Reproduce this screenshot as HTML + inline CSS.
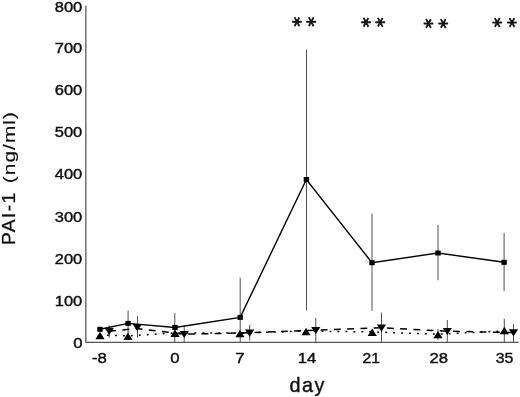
<!DOCTYPE html>
<html><head><meta charset="utf-8"><title>PAI-1</title>
<style>
html,body{margin:0;padding:0;background:#fff;}
body{width:520px;height:397px;overflow:hidden;}
svg{display:block;}
text{font-family:"Liberation Sans",sans-serif;fill:#111;stroke:#111;}
.tk{stroke-width:0.4px;}
.ttl{stroke-width:0.1px;}
.ast{font-family:"DejaVu Sans","Liberation Sans",sans-serif;stroke-width:0.8px;stroke-linejoin:round;}
</style></head><body>
<svg width="520" height="397" viewBox="0 0 520 397">
<rect width="520" height="397" fill="#fff"/>
<path d="M85.85 5.8V342.25H518.6" fill="none" stroke="#555" stroke-width="1.25" stroke-linejoin="round"/>
<line x1="128.1" x2="128.1" y1="310.8" y2="336" stroke="#505050" stroke-width="1"/>
<line x1="174.8" x2="174.8" y1="313.2" y2="343" stroke="#505050" stroke-width="1"/>
<line x1="240.2" x2="240.2" y1="277.7" y2="343" stroke="#505050" stroke-width="1"/>
<line x1="306.5" x2="306.5" y1="49.6" y2="310.3" stroke="#505050" stroke-width="1"/>
<line x1="372.0" x2="372.0" y1="213.8" y2="310.8" stroke="#505050" stroke-width="1"/>
<line x1="438" x2="438" y1="224.9" y2="280.3" stroke="#505050" stroke-width="1"/>
<line x1="504.1" x2="504.1" y1="232.9" y2="291" stroke="#505050" stroke-width="1"/>
<line x1="438" x2="438" y1="329" y2="340" stroke="#505050" stroke-width="1"/>
<line x1="504.3" x2="504.3" y1="318.8" y2="342" stroke="#505050" stroke-width="1"/>
<line x1="109.2" x2="109.2" y1="325.4" y2="337.7" stroke="#505050" stroke-width="1"/>
<line x1="137.5" x2="137.5" y1="316" y2="337.7" stroke="#505050" stroke-width="1"/>
<line x1="184.2" x2="184.2" y1="326.5" y2="342" stroke="#505050" stroke-width="1"/>
<line x1="249.7" x2="249.7" y1="324.8" y2="340.6" stroke="#505050" stroke-width="1"/>
<line x1="315.8" x2="315.8" y1="318" y2="342" stroke="#505050" stroke-width="1"/>
<line x1="381.5" x2="381.5" y1="312.6" y2="342" stroke="#505050" stroke-width="1"/>
<line x1="447.3" x2="447.3" y1="320" y2="342" stroke="#505050" stroke-width="1"/>
<line x1="513.5" x2="513.5" y1="324" y2="342" stroke="#505050" stroke-width="1"/>
<polyline points="100,329.3 128.1,323.4 175,327.5 240.2,317.4 306.35,179.5 372,262.7 438,253 504.1,262.3" fill="none" stroke="#000" stroke-width="1.4"/>
<polyline points="100,335.1 128,335.9 175,332.9 240,333.1 306,331.1 372.2,331.9 438,334.2 504.3,330.9" fill="none" stroke="#000" stroke-width="1.5" stroke-dasharray="1.9 6.05" stroke-dashoffset="0.85"/>
<polyline points="109.2,331.2 137.3,328.6 184.2,334.2 249.7,332.8 315.8,330.2 381.5,327.8 447.3,331.2 513.5,332.6" fill="none" stroke="#000" stroke-width="1.5" stroke-dasharray="6.9 6.35"/>
<rect x="97.3" y="326.8" width="5.4" height="5" fill="#000"/>
<rect x="125.4" y="320.9" width="5.4" height="5" fill="#000"/>
<rect x="172.3" y="325.0" width="5.4" height="5" fill="#000"/>
<rect x="237.5" y="314.9" width="5.4" height="5" fill="#000"/>
<rect x="303.7" y="177.0" width="5.4" height="5" fill="#000"/>
<rect x="369.3" y="260.2" width="5.4" height="5" fill="#000"/>
<rect x="435.3" y="250.5" width="5.4" height="5" fill="#000"/>
<rect x="501.4" y="259.8" width="5.4" height="5" fill="#000"/>
<path d="M100 331.8L104.6 339.2H95.4Z" fill="#000"/>
<path d="M128 332.6L132.6 340.0H123.4Z" fill="#000"/>
<path d="M175 329.6L179.6 337.0H170.4Z" fill="#000"/>
<path d="M240 329.8L244.6 337.2H235.4Z" fill="#000"/>
<path d="M306 327.8L310.6 335.2H301.4Z" fill="#000"/>
<path d="M372.2 328.6L376.8 336.0H367.6Z" fill="#000"/>
<path d="M438 330.9L442.6 338.3H433.4Z" fill="#000"/>
<path d="M504.3 326.8L508.9 334.2H499.7Z" fill="#000"/>
<path d="M109.2 335.1L113.8 327.9H104.6Z" fill="#000"/>
<path d="M137.3 331.3L141.9 324.1H132.7Z" fill="#000"/>
<path d="M184.2 338.1L188.8 330.9H179.6Z" fill="#000"/>
<path d="M249.7 336.7L254.3 329.5H245.1Z" fill="#000"/>
<path d="M315.8 334.1L320.4 326.9H311.2Z" fill="#000"/>
<path d="M381.5 331.7L386.1 324.5H376.9Z" fill="#000"/>
<path d="M447.3 335.1L451.9 327.9H442.7Z" fill="#000"/>
<path d="M513.5 336.5L518.1 329.3H508.9Z" fill="#000"/>
<text x="73.3" y="347.80" class="tk" font-size="14.5" textLength="9.3" lengthAdjust="spacingAndGlyphs">0</text>
<text x="54.8" y="305.77" class="tk" font-size="14.5" textLength="27.5" lengthAdjust="spacingAndGlyphs">100</text>
<text x="54.8" y="263.74" class="tk" font-size="14.5" textLength="27.5" lengthAdjust="spacingAndGlyphs">200</text>
<text x="54.8" y="221.51" class="tk" font-size="14.5" textLength="27.5" lengthAdjust="spacingAndGlyphs">300</text>
<text x="54.8" y="179.38" class="tk" font-size="14.5" textLength="27.5" lengthAdjust="spacingAndGlyphs">400</text>
<text x="54.8" y="137.30" class="tk" font-size="14.5" textLength="27.5" lengthAdjust="spacingAndGlyphs">500</text>
<text x="54.8" y="95.32" class="tk" font-size="14.5" textLength="27.5" lengthAdjust="spacingAndGlyphs">600</text>
<text x="54.8" y="53.34" class="tk" font-size="14.5" textLength="27.5" lengthAdjust="spacingAndGlyphs">700</text>
<text x="54.8" y="11.56" class="tk" font-size="14.5" textLength="27.5" lengthAdjust="spacingAndGlyphs">800</text>
<text x="91.95" y="362.7" class="tk" font-size="14.5" textLength="14.9" lengthAdjust="spacingAndGlyphs">-8</text>
<text x="170.25" y="362.7" class="tk" font-size="14.5" textLength="9.3" lengthAdjust="spacingAndGlyphs">0</text>
<text x="235.35" y="362.7" class="tk" font-size="14.5" textLength="9.3" lengthAdjust="spacingAndGlyphs">7</text>
<text x="297.85" y="362.7" class="tk" font-size="14.5" textLength="18.5" lengthAdjust="spacingAndGlyphs">14</text>
<text x="362.45" y="362.7" class="tk" font-size="14.5" textLength="17.5" lengthAdjust="spacingAndGlyphs">21</text>
<text x="429.45" y="362.7" class="tk" font-size="14.5" textLength="18.5" lengthAdjust="spacingAndGlyphs">28</text>
<text x="495.80" y="362.7" class="tk" font-size="14.5" textLength="17.6" lengthAdjust="spacingAndGlyphs">35</text>
<text x="289.6" y="391.8" font-size="19.8" letter-spacing="1.5" style="stroke-width:0.4px">day</text>
<text transform="translate(15.2 244.9) rotate(-90) scale(1.09 1)" font-size="17.6" letter-spacing="1.25" style="stroke-width:0.28px">PAI-1</text>
<text transform="translate(15.0 183.2) rotate(-90) scale(1.2 1)" font-size="17.4" letter-spacing="0.87" style="stroke-width:0.15px">(ng/ml)</text>
<text class="ast" transform="translate(296.95 21.7) scale(0.94 1) rotate(30)" x="-5.0" y="10.4" font-size="20.2">*</text>
<text class="ast" transform="translate(311.3 21.7) scale(0.94 1) rotate(30)" x="-5.0" y="10.4" font-size="20.2">*</text>
<text class="ast" transform="translate(365.95 22.3) scale(0.94 1) rotate(30)" x="-5.0" y="10.4" font-size="20.2">*</text>
<text class="ast" transform="translate(380.15 22.3) scale(0.94 1) rotate(30)" x="-5.0" y="10.4" font-size="20.2">*</text>
<text class="ast" transform="translate(428.4 23.6) scale(0.94 1) rotate(30)" x="-5.0" y="10.4" font-size="20.2">*</text>
<text class="ast" transform="translate(443.1 23.6) scale(0.94 1) rotate(30)" x="-5.0" y="10.4" font-size="20.2">*</text>
<text class="ast" transform="translate(497.3 22.6) scale(0.94 1) rotate(30)" x="-5.0" y="10.4" font-size="20.2">*</text>
<text class="ast" transform="translate(511.95 22.6) scale(0.94 1) rotate(30)" x="-5.0" y="10.4" font-size="20.2">*</text>
</svg></body></html>
